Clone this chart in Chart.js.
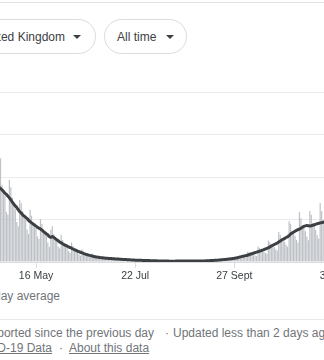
<!DOCTYPE html>
<html lang="en">
<head>
<meta charset="UTF-8">
<meta name="viewport" content="width=device-width, initial-scale=1">
<title>UK deaths</title>
<script src="https://cdn.jsdelivr.net/npm/chart.js"></script>
<style>
  html, body {
    margin: 0;
    padding: 0;
    background: #fff;
  }
  body {
    position: relative;
    width: 324px;
    height: 360px;
    overflow: hidden;
    font-family: Arial, 'Liberation Sans', sans-serif;
    color: #70757a;
  }
  .rule {
    position: absolute;
    left: 0;
    width: 100%;
    height: 1px;
  }
  .pill {
    position: absolute;
    top: 19px;
    height: 35px;
    box-sizing: border-box;
    display: flex;
    align-items: center;
    padding: 0 12px;
    border: 1px solid #dadce0;
    border-radius: 18px;
    font-size: 12px;
    color: #3c4043;
    white-space: nowrap;
  }
  .pill .caret {
    width: 0;
    height: 0;
    margin-left: 10px;
    border-left: 4px solid transparent;
    border-right: 4px solid transparent;
    border-top: 4px solid #3c4043;
  }
  .chart-box {
    position: absolute;
    left: -18px;
    top: 88px;
    width: 370px;
    height: 200px;
  }
  .txt {
    position: absolute;
    font-size: 12px;
    line-height: 14px;
    white-space: nowrap;
  }
  .txt a {
    color: #70757a;
    text-decoration: underline;
  }
</style>
</head>
<body>

<div class="rule" style="top:2px;background:#e3e3e3"></div>

<div class="pill" style="right:228px;padding-right:14px">United Kingdom<span class="caret" style="margin-left:8px"></span></div>
<div class="pill" style="left:104px">All time<span class="caret"></span></div>

<div class="chart-box">
  <canvas id="deathsChart"></canvas>
</div>

<div class="txt" style="right:264px;top:289px">7-day average</div>

<div class="rule" style="top:319px;background:#e8eaed"></div>

<div class="txt" style="right:170px;top:326px">New cases reported since the previous day</div>
<div class="txt" style="left:165px;top:326px">·</div>
<div class="txt" style="left:173px;top:326px">Updated less than 2 days ago</div>

<div class="txt" style="right:272px;top:341px">Source: <a>JHU CSSE COVID-19 Data</a></div>
<div class="txt" style="left:59px;top:341px">·</div>
<div class="txt" style="left:69px;top:341px"><a>About this data</a></div>

<script>
// one category per day, 10 Apr 2020 onwards
const firstDay = [2020, 3, 10];
const dayCount = 250;

const tickDates = ['2020-05-16', '2020-07-22', '2020-09-27', '2020-12-03'];
const tickLabels = ['16 May', '22 Jul', '27 Sept', '3 Dec'];

// deaths reported each day (10 Apr - 29 Nov)
const dailyDeaths = [
  // Apr
  980, 917, 737, 717, 1250, 1080, 980, 920, 880, 600, 640, 1100, 1220, 910, 850, 780, 590, 560, 965, 880, 760,
  // May
  690, 620, 470, 420, 730, 690, 600, 540, 500, 380, 330, 615, 545, 470, 430, 400, 300, 270, 505, 450, 380, 350, 310, 230, 180, 380, 420, 330, 290, 250, 180,
  // Jun
  160, 320, 260, 220, 200, 180, 130, 110, 230, 190, 155, 140, 120, 90, 75, 150, 125, 105, 90, 80, 55, 50, 100, 80, 65, 60, 55, 40, 35, 68,
  // Jul
  58, 48, 44, 40, 30, 28, 52, 45, 38, 36, 32, 24, 21, 42, 35, 30, 27, 25, 19, 16, 32, 27, 23, 21, 20, 15, 13, 26, 22, 18, 17,
  // Aug
  15, 11, 10, 19, 17, 14, 13, 11, 9, 8, 15, 13, 12, 10, 10, 7, 7, 14, 13, 12, 11, 10, 8, 8, 15, 13, 12, 11, 10, 8, 8,
  // Sep
  16, 14, 13, 12, 12, 10, 9, 19, 18, 17, 17, 17, 14, 14, 28, 26, 25, 26, 26, 22, 21, 43, 41, 38, 38, 38, 32, 32, 68, 66,
  // Oct
  63, 64, 65, 54, 53, 120, 113, 99, 100, 88, 77, 70, 182, 165, 140, 138, 124, 107, 96, 252, 231, 197, 200, 175, 151, 134, 353, 321, 272, 274, 236,
  // Nov
  202, 179, 480, 450, 357, 360, 308, 260, 228, 590, 515, 430, 410, 361, 300, 256, 600, 555, 454, 440, 378, 315, 273, 694, 600, 491, 500, 406, 337
];

// 7-day rolling average, same days
const averageDeaths = [
  // Apr
  930, 940, 930, 920, 930, 930, 920, 910, 900, 890, 885, 880, 865, 850, 830, 810, 795, 775, 755, 730, 705,
  // May
  680, 660, 640, 615, 592, 575, 555, 540, 525, 510, 490, 474, 460, 447, 435, 422, 410, 398, 388, 375, 360, 345, 330, 318, 298, 290, 300, 290, 275, 262, 250,
  // Jun
  235, 225, 215, 205, 196, 188, 178, 170, 162, 153, 145, 137, 128, 121, 115, 108, 101, 95, 89, 84, 79, 74, 70, 66, 62, 59, 56, 53, 51, 49,
  // Jul
  47, 45, 44, 42, 41, 40, 38, 37, 36, 35, 34, 32, 31, 30, 29, 28, 27, 26, 25, 24, 23, 22, 22, 21, 21, 20, 19, 19, 18, 17, 17,
  // Aug
  16, 15, 15, 14, 14, 13, 13, 12, 12, 11, 11, 11, 11, 10, 10, 10, 10, 10, 11, 11, 11, 11, 11, 11, 11, 11, 11, 11, 11, 11, 11,
  // Sep
  12, 12, 12, 12, 13, 13, 13, 14, 15, 16, 17, 18, 19, 20, 21, 22, 24, 26, 27, 29, 30, 32, 34, 36, 38, 40, 43, 46, 50, 55,
  // Oct
  60, 64, 68, 72, 76, 80, 87, 94, 99, 104, 110, 116, 121, 127, 133, 140, 146, 153, 160, 168, 178, 188, 197, 206, 215, 224, 235, 247, 259, 268, 278,
  // Nov
  288, 298, 310, 329, 340, 352, 362, 372, 380, 388, 396, 410, 420, 425, 428, 426, 424, 427, 432, 438, 445, 450, 455, 460, 462, 468, 474, 478, 482
];

const pad = n => String(n).padStart(2, '0');
const days = [];
for (let i = 0; i < dayCount; i++) {
  const d = new Date(firstDay[0], firstDay[1], firstDay[2] + i);
  days.push(d.getFullYear() + '-' + pad(d.getMonth() + 1) + '-' + pad(d.getDate()));
}

new Chart(document.getElementById('deathsChart'), {
  data: {
    labels: days,
    datasets: [
      {
        type: 'line',
        label: '7-day average',
        data: averageDeaths,
        borderColor: '#3c4043',
        borderWidth: 3,
        pointRadius: 0,
        tension: 0.2,
        borderJoinStyle: 'round',
        order: 0
      },
      {
        type: 'bar',
        label: 'Deaths',
        data: dailyDeaths,
        backgroundColor: '#bdc1c6',
        barPercentage: 0.8,
        categoryPercentage: 1,
        order: 1
      }
    ]
  },
  options: {
    responsive: true,
    maintainAspectRatio: false,
    animation: false,
    layout: { padding: { top: 4, left: 0, right: 0, bottom: 0 } },
    plugins: {
      legend: { display: false },
      tooltip: { enabled: false }
    },
    scales: {
      x: {
        afterBuildTicks: axis => {
          axis.ticks = axis.ticks.filter(t => tickDates.includes(days[t.value]));
        },
        afterFit: axis => { axis.height = 26; },
        ticks: {
          autoSkip: false,
          maxRotation: 0,
          padding: 2,
          color: '#3c4043',
          font: { family: 'Arial, "Liberation Sans", sans-serif', size: 10.5 },
          callback: function (value) {
            return tickLabels[tickDates.indexOf(days[value])];
          }
        },
        grid: {
          offset: false,
          drawOnChartArea: false,
          tickLength: 6,
          color: '#dadce0'
        },
        border: { display: true, color: '#dadce0' }
      },
      y: {
        min: 0,
        max: 2000,
        afterFit: axis => { axis.width = 0; },
        ticks: { stepSize: 500, display: false },
        grid: { color: '#ebebeb', drawTicks: false },
        border: { display: false }
      }
    }
  }
});
</script>

</body>
</html>
